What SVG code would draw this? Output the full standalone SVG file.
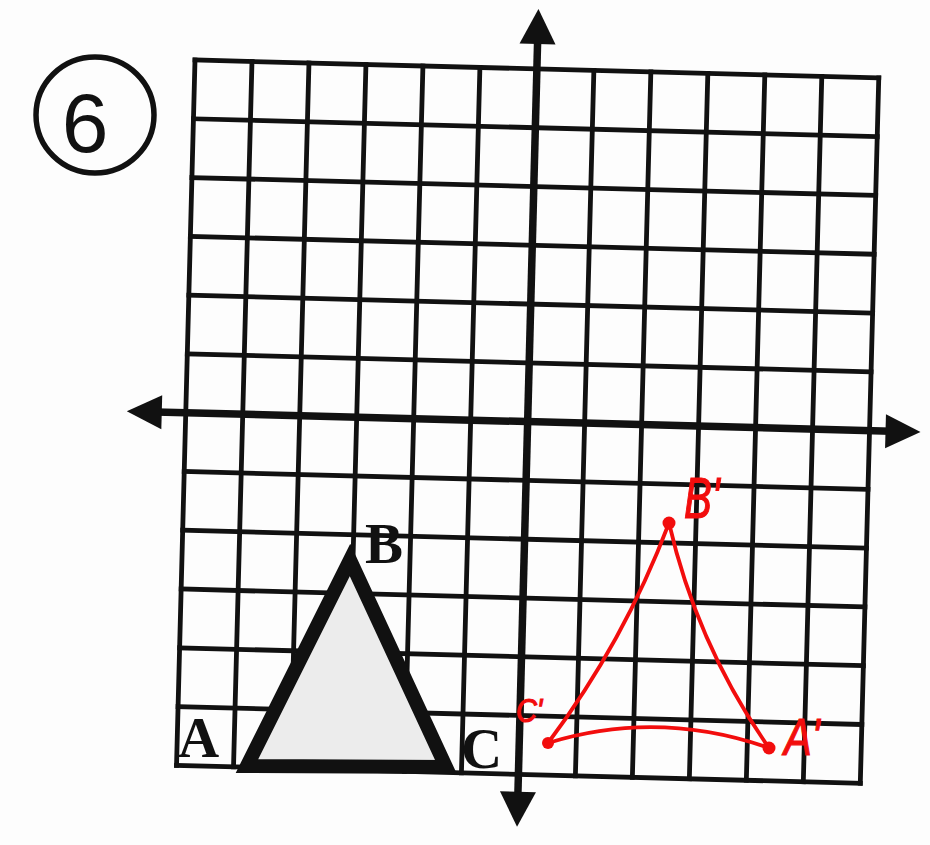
<svg xmlns="http://www.w3.org/2000/svg" width="930" height="845" viewBox="0 0 930 845">
  <style>
    .grid { stroke: #111; stroke-width: 4.8; fill: none; stroke-linecap: square; }
    .axis { stroke: #111; stroke-width: 7.5; fill: none; }
    .head { fill: #111; stroke: none; }
    .lbl { font-family: "Liberation Serif", "Times New Roman", serif; font-weight: bold; font-size: 57px; fill: #111; }
    .red { stroke: #f20d0d; fill: none; stroke-width: 3.8; stroke-linejoin: round; stroke-linecap: round; }
    .redlbl { font-family: "Liberation Sans", Arial, sans-serif; font-style: italic; fill: #f20d0d; stroke: #f20d0d; stroke-width: 1.2; }
  </style>
  <rect x="0" y="0" width="930" height="845" fill="#fdfdfd"/>

  <g id="problem-number">
    <ellipse cx="95" cy="115" rx="59" ry="58" fill="none" stroke="#111" stroke-width="5.5"/>
    <text x="85" y="152" text-anchor="middle" font-family="Liberation Sans, Arial, sans-serif" font-size="84" fill="#111">6</text>
  </g>

  <g id="grid" transform="translate(195,60) rotate(1.5)">
    <path class="grid" d="M0,0V705.6 M57,0V705.6 M114,0V705.6 M171,0V705.6 M228,0V705.6 M285,0V705.6 M399,0V705.6 M456,0V705.6 M513,0V705.6 M570,0V705.6 M627,0V705.6 M684,0V705.6"/>
    <path class="grid" d="M0,0H684 M0,58.8H684 M0,117.6H684 M0,176.4H684 M0,235.2H684 M0,294H684 M0,411.6H684 M0,470.4H684 M0,529.2H684 M0,588H684 M0,646.8H684 M0,705.6H684"/>
    <g id="axes">
      <path class="axis" d="M342,-30V728"/>
      <path class="axis" d="M-30,352.8H706"/>
      <polygon class="head" points="342,-60 324,-25 360,-25"/>
      <polygon class="head" points="342,758 324,723 360,723"/>
      <polygon class="head" points="-59,352.8 -24,336 -24,370"/>
      <polygon class="head" points="735,352.8 700,336 700,370"/>
    </g>
  </g>

  <g id="triangle-ABC">
    <polygon points="247,766 350,560 446,767" fill="#ececec" stroke="#111" stroke-width="14" stroke-linejoin="miter"/>
    <text class="lbl" x="178" y="757">A</text>
    <text class="lbl" x="365" y="563">B</text>
    <text class="lbl" x="461" y="768">C</text>
  </g>

  <g id="triangle-image">
    <path class="red" d="M548,743 Q624,642 669,523 Q697,645 769,748 Q658,709 548,743 Z"/>
    <circle cx="669" cy="523" r="6.5" fill="#f20d0d"/>
    <circle cx="548" cy="743" r="6" fill="#f20d0d"/>
    <circle cx="769" cy="748" r="6.5" fill="#f20d0d"/>
    <text class="redlbl" transform="translate(684,518) scale(0.72,1)" font-size="58">B'</text>
    <text class="redlbl" transform="translate(516,722) scale(0.85,1)" font-size="34">C'</text>
    <text class="redlbl" transform="translate(784,755) scale(0.8,1)" font-size="52">A'</text>
  </g>
</svg>
